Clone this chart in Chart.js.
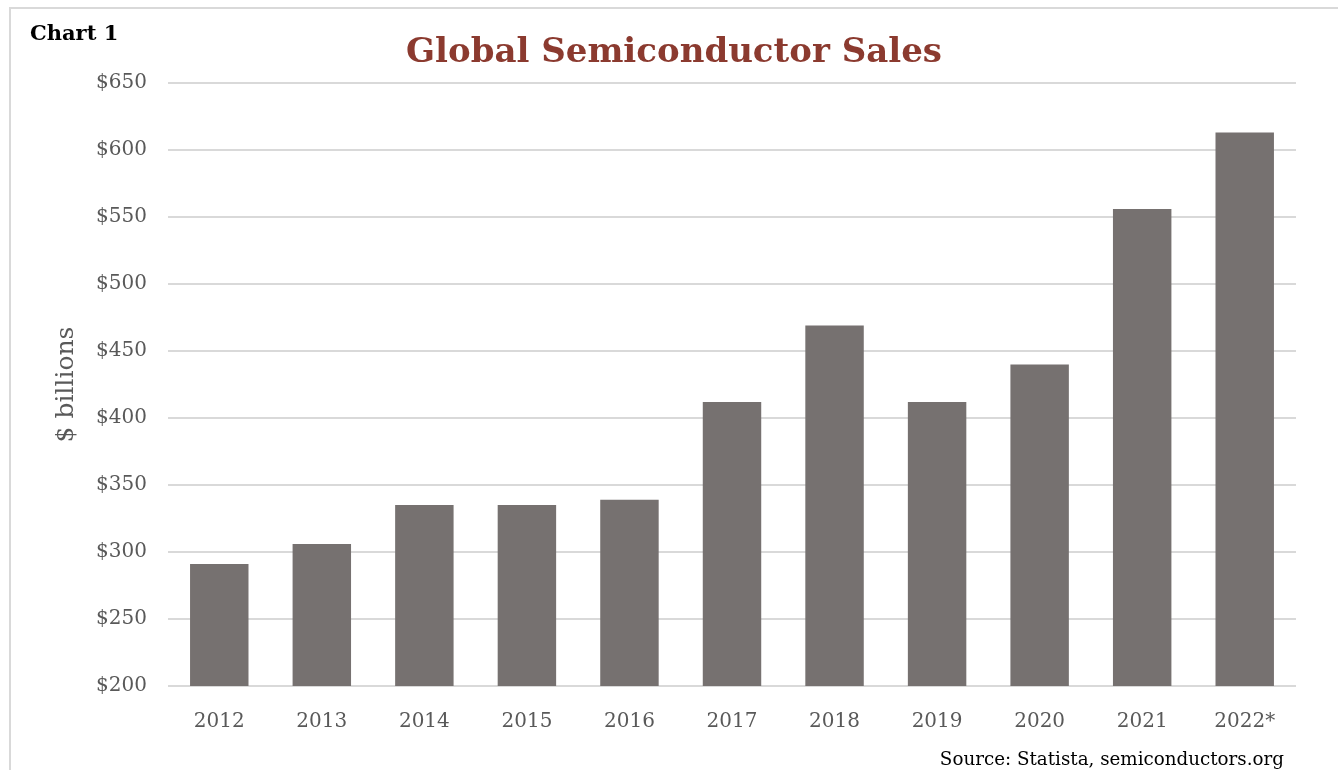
<!DOCTYPE html>
<html>
<head>
<meta charset="utf-8">
<title>Global Semiconductor Sales</title>
<script src="https://cdn.jsdelivr.net/npm/chart.js@4.4.0/dist/chart.umd.min.js"></script>
<style>
  html, body { margin: 0; padding: 0; background: #fff; }
  #wrap { position: relative; width: 1338px; height: 770px; }
</style>
</head>
<body>
<div id="wrap"><canvas id="salesChart" width="1338" height="770"></canvas></div>
<script>
var years = ['2012', '2013', '2014', '2015', '2016', '2017', '2018', '2019', '2020', '2021', '2022*'];
var sales = [291, 306, 335, 335, 339, 412, 469, 412, 440, 556, 613];
var yMin = 200, yMax = 650, yStep = 50;

var chartLabel = 'Chart 1';
var chartTitle = 'Global Semiconductor Sales';
var sourceNote = 'Source: Statista, semiconductors.org';

var serif = '"DejaVu Serif", "Liberation Serif", serif';

// frame, corner label, title and source line
var decorations = {
  id: 'decorations',
  beforeDraw: function(chart){
    var ctx = chart.ctx;
    ctx.save();
    ctx.strokeStyle = '#d9d9d9';
    ctx.lineWidth = 2;
    ctx.beginPath();
    ctx.moveTo(10, 770);
    ctx.lineTo(10, 8);
    ctx.lineTo(1338, 8);
    ctx.stroke();
    ctx.restore();
  },
  afterDraw: function(chart){
    var ctx = chart.ctx;
    ctx.save();
    ctx.textBaseline = 'alphabetic';
    ctx.fillStyle = '#000';
    ctx.font = 'bold 21px ' + serif;
    ctx.textAlign = 'left';
    ctx.fillText(chartLabel, 30, 40);

    ctx.fillStyle = '#8b3a2f';
    ctx.font = 'bold 34px ' + serif;
    ctx.textAlign = 'center';
    ctx.fillText(chartTitle, 674, 62);

    ctx.fillStyle = '#000';
    ctx.font = '18.3px ' + serif;
    ctx.textAlign = 'right';
    ctx.fillText(sourceNote, 1284, 765);
    ctx.restore();
  }
};

var chart = new Chart(document.getElementById('salesChart'), {
  type: 'bar',
  data: {
    labels: years,
    datasets: [{
      label: 'Sales',
      data: sales,
      backgroundColor: '#767170',
      borderWidth: 0,
      categoryPercentage: 1,
      barPercentage: 0.57
    }]
  },
  options: {
    responsive: false,
    animation: false,
    layout: { padding: { left: 49, right: 42, top: 83, bottom: 0 } },
    plugins: {
      legend: { display: false },
      tooltip: { enabled: false }
    },
    scales: {
      x: {
        grid: { display: false },
        border: { display: false },
        ticks: { color: '#595959', font: { family: serif, size: 20 }, padding: 16 },
        afterFit: function(scale){ scale.height = 84; }
      },
      y: {
        min: yMin,
        max: yMax,
        grid: { color: '#d9d9d9', lineWidth: 2, drawTicks: false },
        border: { display: false },
        ticks: {
          stepSize: yStep,
          color: '#595959',
          font: { family: serif, size: 20 },
          padding: 21,
          callback: function(v){ return '$' + v; }
        },
        title: {
          display: true,
          text: '$ billions',
          color: '#595959',
          font: { family: serif, size: 25 },
          padding: { top: 2, bottom: 0 }
        },
        afterFit: function(scale){ scale.width = 119; }
      }
    }
  },
  plugins: [decorations]
});
</script>
</body>
</html>
